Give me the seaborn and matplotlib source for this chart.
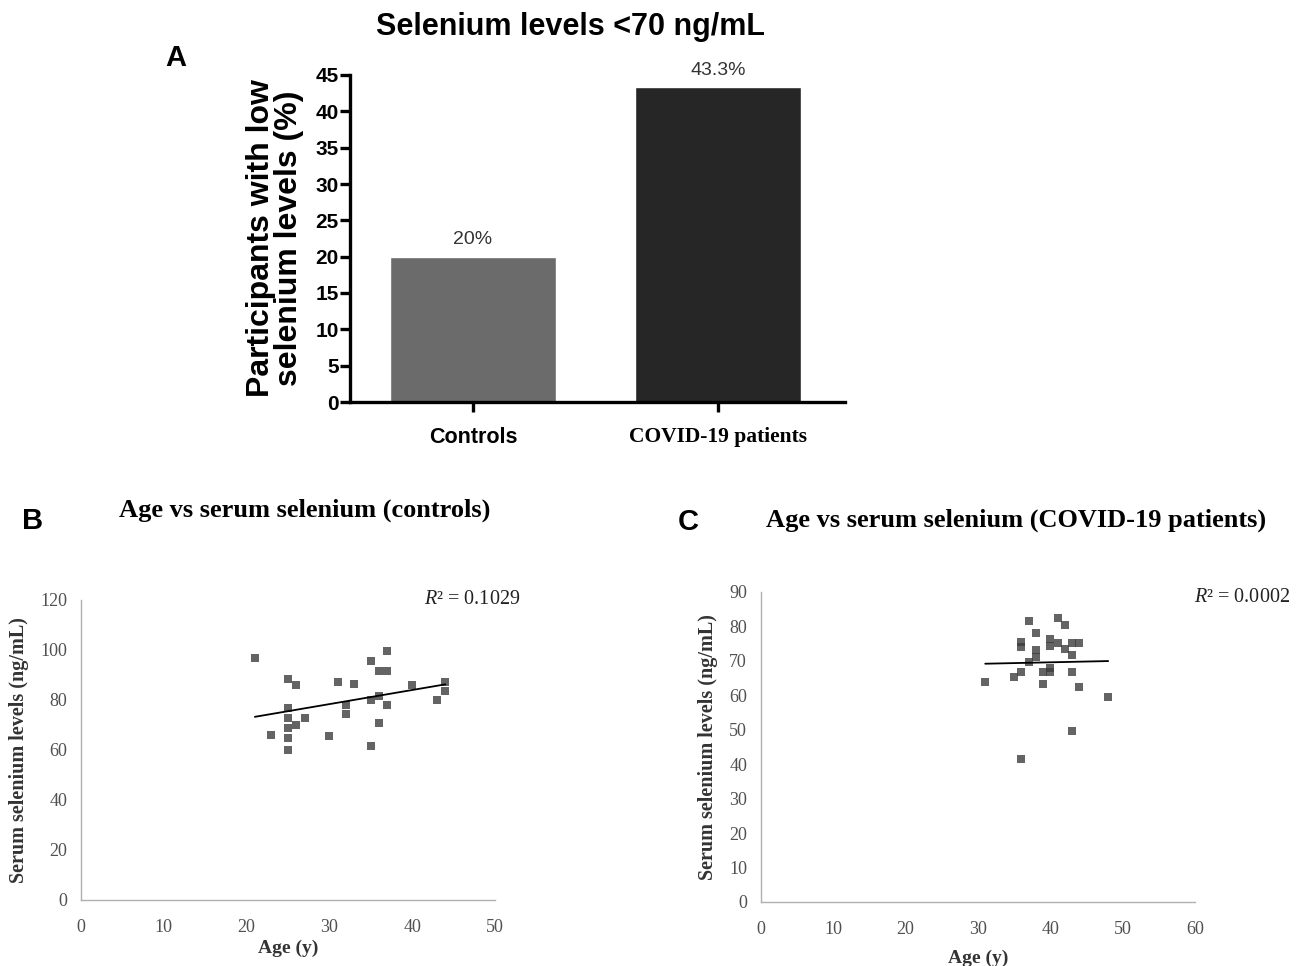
import matplotlib
matplotlib.use("Agg")
import matplotlib.pyplot as plt
import seaborn as sns

# === data ===
groups = ["Controls", "COVID-19 patients"]
low_pct = [20.0, 43.3]
bar_labels = ["20%", "43.3%"]
bar_colors = ["#6b6b6b", "#262626"]

ctrl_age = [21, 23, 25, 25, 25, 25, 25, 25, 26, 26, 27, 30, 31, 32, 32, 33,
            35, 35, 35, 36, 36, 36, 37, 37, 37, 40, 43, 44, 44]
ctrl_se = [97, 66, 88.5, 77, 73, 69, 65, 60, 86, 70, 73, 65.6, 87.3, 78, 74.3, 86.5,
           95.7, 80, 61.6, 91.7, 81.6, 71, 99.7, 91.7, 78, 86, 80, 87.2, 83.5]

covid_age = [31, 35, 36, 36, 36, 36, 37, 37, 38, 38, 38, 39, 39, 40, 40, 40, 40,
             41, 41, 42, 42, 43, 43, 43, 43, 44, 44, 48]
covid_se = [64, 65.2, 66.8, 75.5, 74, 41.5, 81.5, 69.7, 78.1, 73.3, 71.2, 66.8, 63.2,
            76.3, 74.3, 67.8, 66.8, 75.2, 82.5, 80.5, 73.5, 75.2, 71.6, 66.8, 49.6,
            75.2, 62.4, 59.5]

SANS = ["Liberation Sans", "DejaVu Sans"]
SERIF = ["Liberation Serif", "DejaVu Serif"]

sns.set_style("white")
plt.rcParams["font.family"] = SANS
plt.rcParams["text.color"] = "black"
plt.rcParams["axes.labelcolor"] = "black"
plt.rcParams["xtick.color"] = "black"
plt.rcParams["ytick.color"] = "black"
plt.rcParams["mathtext.fontset"] = "custom"
plt.rcParams["mathtext.it"] = "Liberation Serif:italic"

W, H = 1304, 966
fig = plt.figure(figsize=(W / 100, H / 100), dpi=100)

def rect(left, right, top, bottom):
    return [left / W, 1 - bottom / H, (right - left) / W, (bottom - top) / H]

# ---------- panel A: bars ----------
axA = fig.add_axes(rect(350, 845, 75, 402))
sns.barplot(x=groups, y=low_pct, hue=groups, palette=bar_colors, width=0.68,
            legend=False, ax=axA, saturation=1)
axA.set_xlim(-0.502, 1.518)
axA.set_ylim(0, 45)
axA.set_yticks(range(0, 46, 5))
for s in ["top", "right"]:
    axA.spines[s].set_visible(False)
for s in ["left", "bottom"]:
    axA.spines[s].set_linewidth(2.4)
    axA.spines[s].set_color("black")
axA.tick_params(axis="both", direction="out", length=7, width=2.4, color="black",
                left=True, bottom=True)
axA.tick_params(axis="y", labelsize=15, pad=1)
for t in axA.get_yticklabels():
    t.set_fontweight("bold")
axA.set_xticks([0, 1])
axA.set_xticklabels([])
axA.text(0, -0.075, groups[0], transform=axA.get_xaxis_transform(), ha="center",
         va="top", fontsize=15.5, fontweight="bold", family=SANS)
axA.text(1, -0.075, groups[1], transform=axA.get_xaxis_transform(), ha="center",
         va="top", fontsize=15.5, fontweight="bold", family=SERIF)
for i, (v, lab) in enumerate(zip(low_pct, bar_labels)):
    axA.text(i, v + 1.2, lab, ha="center", va="bottom", fontsize=14, color="#333333")
axA.set_ylabel("Participants with low\nselenium levels (%)", fontsize=23,
               fontweight="bold", labelpad=8, linespacing=0.92)
axA.set_xlabel("")
fig.text(570 / W, 1 - 27 / H, "Selenium levels <70 ng/mL", ha="center", va="center",
         fontsize=22, fontweight="bold")
fig.text(176 / W, 1 - 58 / H, "A", ha="center", va="center", fontsize=21,
         fontweight="bold")

# ---------- scatter panels ----------
def scatter_panel(ax, x, y, xmax, ymax, ystep):
    sns.regplot(x=x, y=y, ci=None, marker="s", ax=ax, truncate=True,
                scatter_kws={"s": 34, "color": "#3d3d3d", "linewidths": 0},
                line_kws={"color": "black", "linewidth": 1.3})
    ax.set_xlim(0, xmax)
    ax.set_ylim(0, ymax)
    ax.set_xticks(range(0, xmax + 1, 10))
    ax.set_yticks(range(0, ymax + 1, ystep))
    for s in ["top", "right"]:
        ax.spines[s].set_visible(False)
    for s in ["left", "bottom"]:
        ax.spines[s].set_color("#b0b0b0")
        ax.spines[s].set_linewidth(1.0)
    ax.tick_params(axis="both", length=0, labelsize=13, labelcolor="#505050")
    ax.tick_params(axis="x", pad=14)
    ax.tick_params(axis="y", pad=10)
    for t in ax.get_xticklabels() + ax.get_yticklabels():
        t.set_family(SERIF)
    ax.set_xlabel("Age (y)", family=SERIF, fontweight="bold", fontsize=14,
                  color="#333333", labelpad=2)
    ax.set_ylabel("Serum selenium levels (ng/mL)", family=SERIF, fontweight="bold",
                  fontsize=14.5, color="#333333", labelpad=8)

axB = fig.add_axes(rect(81, 495, 600, 900))
scatter_panel(axB, ctrl_age, ctrl_se, 50, 120, 20)
fig.text(520 / W, 1 - 600 / H, "$R$\u00b2 = 0.1029", ha="right", va="center",
         fontsize=14.5, family=SERIF, color="#222222")
fig.text(305 / W, 1 - 510 / H, "Age vs serum selenium (controls)", ha="center",
         va="center", fontsize=19, fontweight="bold", family=SERIF)
fig.text(33 / W, 1 - 521 / H, "B", ha="center", va="center", fontsize=21,
         fontweight="bold")

axC = fig.add_axes(rect(761, 1195, 592, 902))
scatter_panel(axC, covid_age, covid_se, 60, 90, 10)
axC.xaxis.labelpad = 8
fig.text(1290 / W, 1 - 598 / H, "$R$\u00b2 = 0.0002", ha="right", va="center",
         fontsize=14.5, family=SERIF, color="#222222")
fig.text(1016 / W, 1 - 520 / H, "Age vs serum selenium (COVID-19 patients)",
         ha="center", va="center", fontsize=19, fontweight="bold", family=SERIF)
fig.text(688 / W, 1 - 522 / H, "C", ha="center", va="center", fontsize=21,
         fontweight="bold")

fig.savefig("out.png", dpi=100)
